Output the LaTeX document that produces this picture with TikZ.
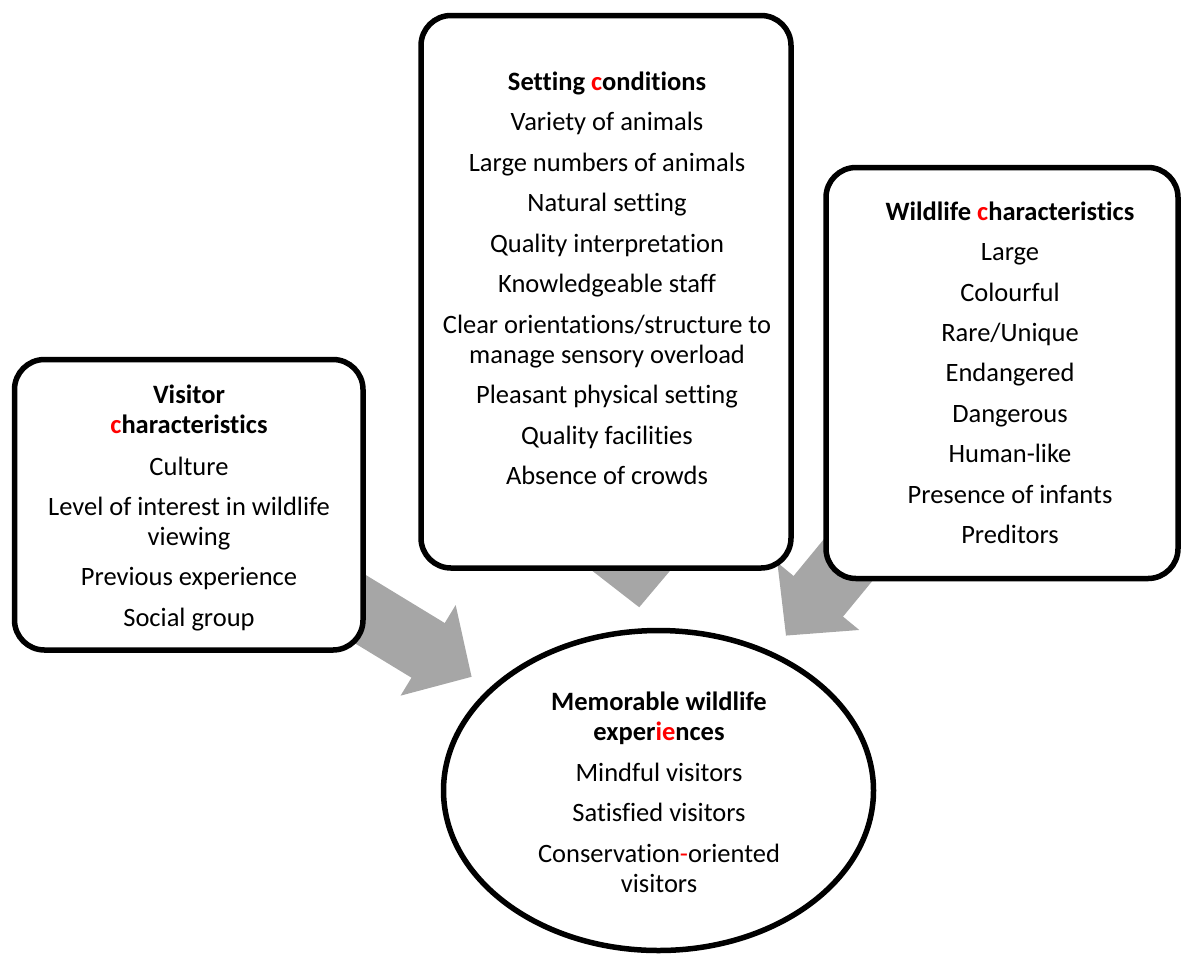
\documentclass[tikz,border=0pt]{standalone}
\usepackage{fontspec}
\setmainfont{Carlito}[Ligatures={NoCommon}]
\usetikzlibrary{arrows.meta,shapes.geometric,backgrounds}
\definecolor{arrowgray}{RGB}{166,166,166}

\begin{document}
\begin{tikzpicture}
	[x=1pt, y=-1pt,
	box/.style = {draw, fill=white, line width=5.5pt,
	rounded corners=30pt, inner sep=0pt},
	oval/.style = {draw, fill=white, ellipse, line width=5.5pt, inner sep=0pt},
	txt/.style = {align=center, inner sep=0pt, anchor=north,
	font=\fontsize{26.5}{30}\selectfont},
	bigarrow/.style = {draw=arrowgray, line width=64pt,
	-{Triangle[length=51pt, width=103pt]}, shorten >=21pt}]
	\useasboundingbox (0,0) rectangle (1182,959);
	% boxes
	\node[box, minimum width=370pt, minimum height=552.5pt] (setting) at (606,291.75) {};
	\node[box, minimum width=352pt, minimum height=411pt] (wildlife) at (1002,373) {};
	\node[box, minimum width=348.5pt, minimum height=290.5pt] (visitor) at (188.75,504.75) {};
	\node[oval, minimum width=430pt, minimum height=320pt] (exp) at (658.5,790.5) {};
	% texts
	\node[txt] (settingtxt) at (607,71.5) {\textbf{Setting \textcolor{red}{c}onditions}\\[10.5pt]
		Variety of animals\\[10.5pt]
		Large numbers of animals\\[10.5pt]
		Natural setting\\[10.5pt]
		Quality interpretation\\[10.5pt]
		Knowledgeable staff\\[10.5pt]
		Clear orientations/structure to\\
		manage sensory overload\\[10.5pt]
		Pleasant physical setting\\[10.5pt]
		Quality facilities\\[10.5pt]
		Absence of crowds};
	\node[txt] (wildlifetxt) at (1010,201.5) {\textbf{Wildlife \textcolor{red}{c}haracteristics}\\[10.4pt]
		Large\\[10.4pt]
		Colourful\\[10.4pt]
		Rare/Unique\\[10.4pt]
		Endangered\\[10.4pt]
		Dangerous\\[10.4pt]
		Human-like\\[10.4pt]
		Presence of infants\\[10.4pt]
		Preditors};
	\node[txt] (visitortxt) at (189,384.5) {\textbf{Visitor}\\
		\textbf{\textcolor{red}{c}haracteristics}\\[12pt]
		Culture\\[10pt]
		Level of interest in wildlife\\
		viewing\\[10.5pt]
		Previous experience\\[10.5pt]
		Social group};
	\node[txt] (exptxt) at (659,691.5) {\textbf{Memorable wildlife}\\
		\textbf{exper\textcolor{red}{ie}nces}\\[11pt]
		Mindful visitors\\[10.5pt]
		Satisfied visitors\\[10.5pt]
		Conservation\textcolor{red}{-}oriented\\
		visitors};
	% arrows
	\begin{scope}[on background layer]
		\draw[bigarrow] (visitor.center) -- (exp);
		\draw[bigarrow] (setting.center) -- (exp);
		\draw[bigarrow] (wildlife.center) -- (exp);
	\end{scope}
\end{tikzpicture}
\end{document}
